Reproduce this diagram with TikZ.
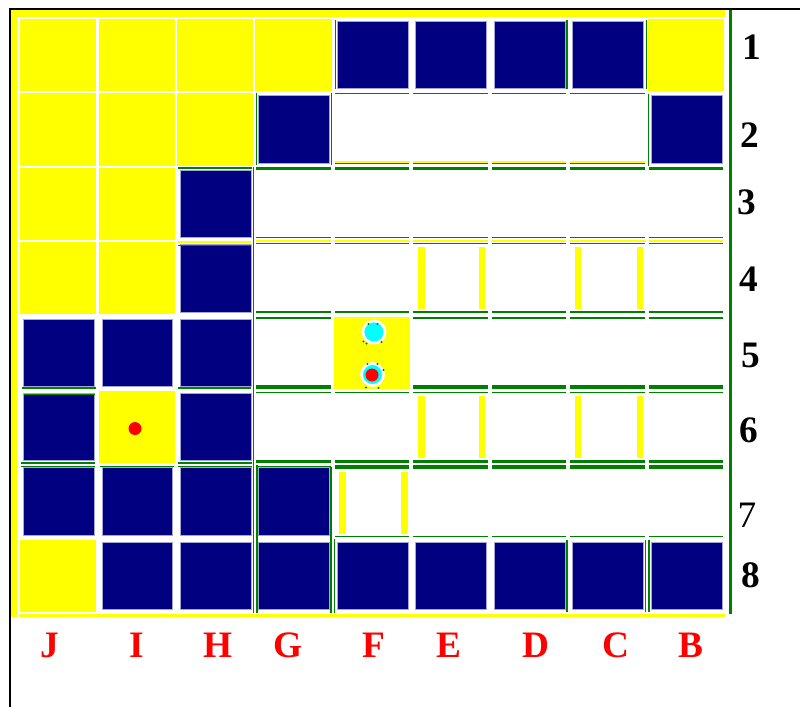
\documentclass[tikz,border=0pt]{standalone}
\usepackage{fontspec}
\setmainfont{Liberation Serif}

\definecolor{navyblue}{RGB}{0,0,128}
\definecolor{brightyellow}{RGB}{255,255,0}
\definecolor{darkgreen}{RGB}{0,128,0}
\definecolor{aqua}{RGB}{0,255,255}
\definecolor{rim}{RGB}{165,165,215}

\tikzset{
  ncell/.style={fill=navyblue, draw=rim, line width=0.6pt},
  gthin/.style={draw=darkgreen, line width=1.35pt},
  gthick/.style={draw=darkgreen, line width=2.5pt},
  ystrip/.style={draw=brightyellow, line width=1.5pt},
  rowlab/.style={font=\fontsize{28}{30}\selectfont\bfseries, inner sep=0pt},
  collab/.style={font=\fontsize{28}{30}\selectfont\bfseries, text=red, inner sep=0pt}
}

\begin{document}
\begin{tikzpicture}[x=0.75pt,y=-0.75pt, line cap=butt]
\useasboundingbox (0,0) rectangle (800,707);

% Rahmen
\draw[line width=1.7pt] (10,707) -- (10,9) -- (800,9);

% gelbe Randstreifen
\fill[brightyellow] (11,10) rectangle (725,17);
\fill[brightyellow] (11,10) rectangle (17,617);
\fill[brightyellow] (19,613.5) rectangle (725,617);

% gelbe Felder (Spalte/Zeile, J=0 ... B=8)
\foreach \c/\r in {0/0,1/0,2/0,3/0,8/0, 0/1,1/1,2/1, 0/2,1/2, 0/3,1/3, 4/4, 1/5, 0/7}
  \fill[brightyellow] ({19+78.44*\c+1.1},{18+74.375*\r+1.1})
    rectangle ({19+78.44*(\c+1)-1.1},{18+74.375*(\r+1)-1.1});

% blaue Bloecke
\foreach \c/\r in {4/0,5/0,6/0,7/0, 3/1,8/1, 2/2, 2/3, 0/4,1/4,2/4, 0/5,2/5,
                   0/6,1/6,2/6,3/6, 1/7,2/7,3/7,4/7,5/7,6/7,7/7,8/7}
  \filldraw[ncell] ({19+78.44*\c+4.5},{18+74.375*\r+3.5})
    rectangle ({19+78.44*(\c+1)-3},{18+74.375*(\r+1)-3.5});

% Linien 1|2
\foreach \c [evaluate=\c as \xa using 21+78.44*\c] in {4,...,7}
  \draw[gthin] (\xa,93.5) -- ++(74.5,0);

% Linien 2|3
\foreach \c [evaluate=\c as \xa using 21+78.44*\c] in {4,...,7}{
  \draw[ystrip] (\xa,161.5) -- ++(74.5,0);
  \draw[gthin] (\xa,163.5) -- ++(74.5,0);
}
\foreach \c [evaluate=\c as \xa using 21+78.44*\c] in {3,...,8}
  \draw[gthick] (\xa,168.5) -- ++(74.5,0);
\draw[gthin] (178,168) -- (252,168);

% Linien 3|4
\foreach \c [evaluate=\c as \xa using 21+78.44*\c] in {3,...,8}{
  \draw[gthin] (\xa,237.5) -- ++(74.5,0);
  \draw[ystrip] (\xa,241) -- ++(74.5,0);
  \draw[gthin] (\xa,243.5) -- ++(74.5,0);
}
\draw[ystrip] (178,242) -- (251,242);
\draw[gthin] (178,245.5) -- (251,245.5);

% Linien 4|5
\foreach \c [evaluate=\c as \xa using 21+78.44*\c] in {3,...,8}
  \draw[gthin] (\xa,312) -- ++(74.5,0);
\foreach \c [evaluate=\c as \xa using 21+78.44*\c] in {3,5,6,7,8}
  \draw[gthin] (\xa,318) -- ++(74.5,0);

% Linien 5|6
\foreach \c [evaluate=\c as \xa using 21+78.44*\c] in {3,5,6,7,8}
  \draw[gthick] (\xa,387) -- ++(74.5,0);
\foreach \c [evaluate=\c as \xa using 21+78.44*\c] in {3,...,8}
  \draw[gthin] (\xa,392.5) -- ++(74.5,0);
\draw[gthin] (22,388) -- (96,388);
\draw[gthin] (178,388) -- (251,388);
\draw[gthin] (24,394.5) -- (95,394.5);

% Linien 6|7
\foreach \c [evaluate=\c as \xa using 21+78.44*\c] in {3,...,8}
  \draw[gthick] (\xa,461.5) -- ++(74.5,0);
\foreach \c [evaluate=\c as \xa using 21+78.44*\c] in {4,...,8}
  \draw[gthick] (\xa,467) -- ++(74.5,0);
\draw[gthin] (257,466.5) -- (331,466.5);
\foreach \c [evaluate=\c as \xa using 21+78.44*\c] in {0,2}{
  \draw[gthin] (\xa,463) -- ++(74,0);
  \draw[gthin] (\xa,466.5) -- ++(74,0);
}
\draw[gthin] (100,466.5) -- (174,466.5);

% Linien 7|8
\foreach \c [evaluate=\c as \xa using 21+78.44*\c] in {4,...,8}
  \draw[gthin] (\xa,536.5) -- ++(74.5,0);

% senkrechte Linien
\draw[gthin] (335.5,20) -- (335.5,89);
\draw[gthin] (567,20) -- (567,89);
\draw[gthin] (646.5,20) -- (646.5,89);
\draw[gthin] (256.5,93) -- (256.5,165);
\draw[gthin] (331.5,93) -- (331.5,165);
\draw[gthin] (648.5,94) -- (648.5,166);
\draw[gthin] (253.5,167) -- (253.5,613);
\draw[gthin] (257,465) -- (257,613);
\draw[gthin] (331,467) -- (331,613);
\draw[gthin] (334.5,539) -- (334.5,613);
\draw[gthin] (567,540) -- (567,612);
\draw[gthin] (645.5,540) -- (645.5,612);
\draw[gthin] (649,540) -- (649,612);
\draw[darkgreen, line width=1.7pt] (730.5,10) -- (730.5,614);

% Leitern
\foreach \xa in {418,478.5,574.5,636.5}{
  \fill[brightyellow] (\xa,247) rectangle ++(6.5,62);
  \fill[brightyellow] (\xa,396) rectangle ++(6.5,61.5);
}
\foreach \xa in {338.5,400.5}
  \fill[brightyellow] (\xa,472) rectangle ++(7,61.5);

% Steine
\coordinate (stoneU) at (374,332);
\coordinate (stoneL) at (372.5,374.5);
\coordinate (dotI) at (135,428.5);
\filldraw[fill=aqua, draw=white, line width=2pt] (stoneU) circle (11);
\filldraw[fill=aqua, draw=white, line width=2pt] (stoneL) circle (11);
\fill[red] (372,375) circle (6.5);
\fill[red] (dotI) circle (6.5);
\foreach \p in {(363.5,341.5),(366.5,343.5),(381.5,342),(368.5,324),(377.5,324),
                (367.5,364),(377.5,364),(383.5,370),(366,387.5),(378.5,388)}
  \fill[darkgreen] \p circle (1.1);

% Zeilennummern
\foreach \n/\xx/\yy in {1/751.5/47.5, 2/749.5/135.5, 3/746.5/202.5, 4/748.5/279.5,
                        5/751/355, 6/748.5/430.5, 8/751/575.5}
  \node[rowlab] (row\n) at (\xx,\yy) {\n};
\node[rowlab, font=\fontsize{28}{30}\selectfont\mdseries] (row7) at (747,515.5) {7};

% Spaltenbuchstaben
\foreach \l/\xx in {J/50,I/137,H/218,G/288,F/374,E/448.5,D/535.5,C/615.5,B/690.5}
  \node[collab] (col\l) at (\xx,645.5) {\l};

\end{tikzpicture}
\end{document}
